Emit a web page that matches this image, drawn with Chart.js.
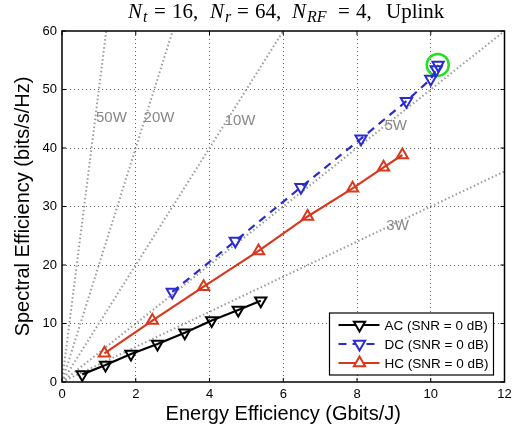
<!DOCTYPE html>
<html>
<head>
<meta charset="utf-8">
<script src="https://cdn.jsdelivr.net/npm/chart.js@4.4.0/dist/chart.umd.min.js"></script>
<style>
  html, body { margin: 0; padding: 0; background: #fff; }
  #wrap { width: 518px; height: 427px; }
</style>
</head>
<body>
<div id="wrap"><canvas id="seChart" width="518" height="427"></canvas></div>
<script>
// Energy efficiency (x) / spectral efficiency (y)
const acEE = [0.55, 1.18, 1.87, 2.59, 3.33, 4.06, 4.78, 5.39];
const acSE = [1.3, 2.9, 4.8, 6.5, 8.4, 10.5, 12.3, 13.9];

const dcEE = [2.99, 4.70, 6.48, 8.11, 9.34, 10.0, 10.15, 10.2];
const dcSE = [15.4, 24.1, 33.3, 41.6, 48.0, 51.8, 53.4, 54.2];

const hcEE = [1.15, 2.45, 3.84, 5.33, 6.66, 7.88, 8.72, 9.23];
const hcSE = [4.9, 10.5, 16.3, 22.4, 28.3, 33.1, 36.7, 38.8];

// highlighted operating point (green circle)
const bestEE = [10.19];
const bestSE = [54.2];

// constant power reference lines (W) and where their labels sit
const powerLevels = [3, 5, 10, 20, 50];
const powerLabelX = [9.1, 9.05, 4.83, 2.63, 1.34];
const powerLabelY = [26.7, 43.8, 44.6, 45.1, 45.1];

const xTicks = [0, 2, 4, 6, 8, 10, 12];
const yTicks = [0, 10, 20, 30, 40, 50, 60];
const X_MAX = 12, Y_MAX = 60;

const toPts = (xs, ys) => xs.map((x, i) => ({ x: x, y: ys[i] }));

const BLUE = '#2b2bd2';
const RED = '#d8381c';
const GREY = '#9a9a9a';
const SANS = '"Liberation Sans", Arial, sans-serif';

// power lines: SE = P * EE, clipped to the axes box
const powerSets = powerLevels.map(p => {
    const xEnd = Math.min(X_MAX, Y_MAX / p);
    return {
        label: p + 'W',
        data: [{ x: 0, y: 0 }, { x: xEnd, y: xEnd * p }],
        borderColor: GREY,
        borderWidth: 2,
        borderDash: [1.5, 2.5],
        pointRadius: 0,
        showLine: true,
        fill: false,
        order: 10
    };
});

const seriesSets = [{
    label: 'AC (SNR = 0 dB)',
    data: toPts(acEE, acSE),
    borderColor: '#000',
    backgroundColor: 'rgba(0,0,0,0)',
    borderWidth: 2.2,
    pointStyle: 'triangle',
    rotation: 180,
    pointRadius: 6.5,
    pointBorderWidth: 2,
    showLine: true
}, {
    label: 'DC (SNR = 0 dB)',
    data: toPts(dcEE, dcSE),
    borderColor: BLUE,
    backgroundColor: 'rgba(0,0,0,0)',
    borderWidth: 2.2,
    borderDash: [8, 6],
    pointStyle: 'triangle',
    rotation: 180,
    pointRadius: 6.5,
    pointBorderWidth: 2,
    showLine: true
}, {
    label: 'HC (SNR = 0 dB)',
    data: toPts(hcEE, hcSE),
    borderColor: RED,
    backgroundColor: 'rgba(0,0,0,0)',
    borderWidth: 2.2,
    pointStyle: 'triangle',
    rotation: 0,
    pointRadius: 6.5,
    pointBorderWidth: 2,
    showLine: true
}];

const bestSet = {
    label: 'best',
    data: toPts(bestEE, bestSE),
    borderColor: '#22e022',
    backgroundColor: 'rgba(0,0,0,0)',
    pointStyle: 'circle',
    pointRadius: 11,
    pointBorderWidth: 2.5,
    showLine: false
};

// title with subscripts, axes box, inner ticks, power labels and legend
const decorPlugin = {
    id: 'decor',
    afterDatasetsDraw(chart) {
        const ctx = chart.ctx;
        const xs = chart.scales.x, ys = chart.scales.y;

        ctx.save();
        ctx.fillStyle = '#888';
        ctx.font = '15px ' + SANS;
        ctx.textAlign = 'center';
        ctx.textBaseline = 'middle';
        powerLevels.forEach((p, i) => {
            ctx.fillText(p + 'W', xs.getPixelForValue(powerLabelX[i]), ys.getPixelForValue(powerLabelY[i]));
        });
        ctx.restore();
    },
    afterDraw(chart) {
        const ctx = chart.ctx;
        const a = chart.chartArea;
        const xs = chart.scales.x, ys = chart.scales.y;

        // axes box and inward ticks
        ctx.save();
        ctx.strokeStyle = '#000';
        ctx.lineWidth = 1.5;
        ctx.strokeRect(a.left, a.top, a.right - a.left, a.bottom - a.top);
        ctx.lineWidth = 1;
        ctx.beginPath();
        xTicks.forEach(v => {
            const px = xs.getPixelForValue(v);
            ctx.moveTo(px, a.bottom); ctx.lineTo(px, a.bottom - 4);
            ctx.moveTo(px, a.top); ctx.lineTo(px, a.top + 4);
        });
        yTicks.forEach(v => {
            const py = ys.getPixelForValue(v);
            ctx.moveTo(a.left, py); ctx.lineTo(a.left + 4, py);
            ctx.moveTo(a.right, py); ctx.lineTo(a.right - 4, py);
        });
        ctx.stroke();
        ctx.restore();

        // title
        const fam = '"Liberation Serif", "Times New Roman", serif';
        const parts = [
            { t: 'N', it: true, x: 128 }, { t: 't', it: true, sub: true, x: 143 },
            { t: '=', x: 154 }, { t: '16,', x: 172 },
            { t: 'N', it: true, x: 210 }, { t: 'r', it: true, sub: true, x: 225 },
            { t: '=', x: 237 }, { t: '64,', x: 255 },
            { t: 'N', it: true, x: 292 }, { t: 'RF', it: true, sub: true, x: 307 },
            { t: '=', x: 338 }, { t: '4,', x: 356 },
            { t: 'Uplink', x: 386 }
        ];
        const base = 18;
        ctx.save();
        ctx.fillStyle = '#000';
        ctx.textBaseline = 'alphabetic';
        ctx.textAlign = 'left';
        parts.forEach(p => {
            ctx.font = (p.it ? 'italic ' : '') + (p.sub ? '16px ' : '21px ') + fam;
            ctx.fillText(p.t, p.x, p.sub ? base + 4 : base);
        });
        ctx.restore();

        // legend box
        const boxW = 164, boxH = 62;
        const bx = a.right - 11 - boxW, by = a.bottom - 7 - boxH;
        ctx.save();
        ctx.fillStyle = '#fff';
        ctx.fillRect(bx, by, boxW, boxH);
        ctx.strokeStyle = '#000';
        ctx.lineWidth = 1.2;
        ctx.strokeRect(bx, by, boxW, boxH);
        ctx.font = '13.5px ' + SANS;
        ctx.textBaseline = 'middle';
        seriesSets.forEach((ds, i) => {
            const ry = by + 12 + i * 19;
            ctx.strokeStyle = ds.borderColor;
            ctx.lineWidth = 2.2;
            ctx.setLineDash(ds.borderDash || []);
            ctx.beginPath();
            ctx.moveTo(bx + 9, ry);
            ctx.lineTo(bx + 50, ry);
            ctx.stroke();
            ctx.setLineDash([]);
            ctx.lineWidth = 2;
            ctx.fillStyle = '#fff';
            Chart.helpers.drawPoint(ctx, {
                pointStyle: 'triangle', rotation: ds.rotation, radius: 6.5, borderWidth: 2
            }, bx + 30, ry);
            ctx.fillStyle = '#000';
            ctx.fillText(ds.label, bx + 55, ry + 1);
        });
        ctx.restore();
    }
};

const tickFont = { family: SANS, size: 13 };
const gridColor = max => (ctx => (ctx.tick && (ctx.tick.value === 0 || ctx.tick.value === max)) ? 'rgba(0,0,0,0)' : '#333');

const chart = new Chart(document.getElementById('seChart').getContext('2d'), {
    type: 'scatter',
    data: { datasets: powerSets.concat(seriesSets, [bestSet]) },
    options: {
        responsive: false,
        animation: false,
        layout: { padding: { top: 31, right: 0, left: 0, bottom: 0 } },
        plugins: {
            legend: { display: false },
            tooltip: { enabled: false },
            title: { display: false }
        },
        scales: {
            x: {
                type: 'linear',
                min: 0,
                max: X_MAX,
                afterFit(scale) {
                    scale.height = 45;
                    scale.paddingLeft = 0;
                    scale.paddingRight = 10;
                },
                afterBuildTicks(scale) { scale.ticks = xTicks.map(v => ({ value: v })); },
                ticks: { color: '#000', font: tickFont, padding: 5, maxRotation: 0 },
                grid: { color: gridColor(X_MAX), lineWidth: 0.8, drawTicks: false },
                border: { display: false, dash: [1, 3] },
                title: {
                    display: true,
                    text: 'Energy Efficiency (Gbits/J)',
                    color: '#000',
                    font: { family: SANS, size: 20 },
                    padding: { top: 0, bottom: 1 }
                }
            },
            y: {
                type: 'linear',
                min: 0,
                max: Y_MAX,
                afterFit(scale) {
                    scale.width = 62;
                    scale.paddingTop = 0;
                    scale.paddingBottom = 0;
                },
                afterBuildTicks(scale) { scale.ticks = yTicks.map(v => ({ value: v })); },
                ticks: { color: '#000', font: tickFont, padding: 5 },
                grid: { color: gridColor(Y_MAX), lineWidth: 0.8, drawTicks: false },
                border: { display: false, dash: [1, 3] },
                title: {
                    display: true,
                    text: 'Spectral Efficiency (bits/s/Hz)',
                    color: '#000',
                    font: { family: SANS, size: 20 },
                    padding: { top: 11, bottom: 0 }
                }
            }
        }
    },
    plugins: [decorPlugin]
});
</script>
</body>
</html>
